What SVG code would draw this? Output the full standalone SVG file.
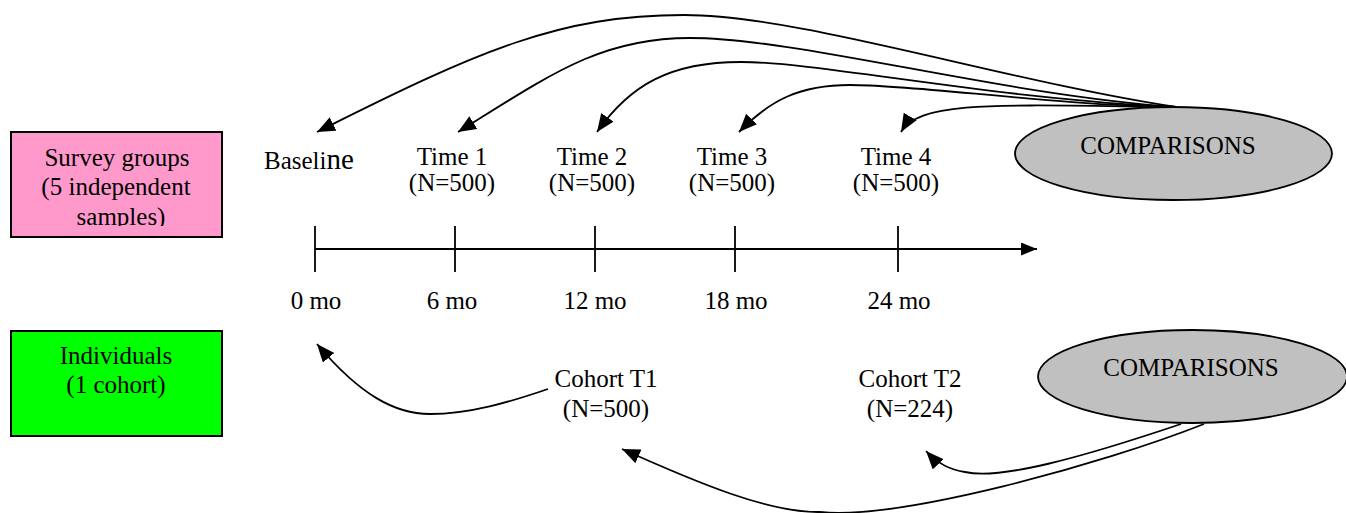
<svg xmlns="http://www.w3.org/2000/svg" width="1346" height="513" viewBox="0 0 1346 513">
  <style>
    text { font-family: "Liberation Serif", "Times New Roman", serif; font-size: 25px; fill: #000; }
    .c { text-anchor: middle; }
    .box { stroke: #000; stroke-width: 2; }
    .oval { fill: #C0C0C0; stroke: #000; stroke-width: 1.8; }
    .edge { fill: none; stroke: #000; stroke-width: 1.8; marker-end: url(#ah); }
    .axis { fill: none; stroke: #000; stroke-width: 1.8; }
  </style>
  <defs>
    <marker id="ah" markerUnits="userSpaceOnUse" markerWidth="20" markerHeight="16" refX="18" refY="7.5" orient="auto">
      <path d="M0,0 L18,7.5 L0,15 z" fill="#000"/>
    </marker>
    <marker id="axisHead" markerUnits="userSpaceOnUse" markerWidth="18" markerHeight="14" refX="16" refY="6.5" orient="auto">
      <path d="M0,0 L16,6.5 L0,13 z" fill="#000"/>
    </marker>
    <clipPath id="surveyClip">
      <rect x="11" y="132" width="211" height="94"/>
    </clipPath>
  </defs>

  <!-- row labels -->
  <g id="survey-groups">
    <rect class="box" x="11" y="132" width="211" height="105" fill="#FF99CC"/>
    <g clip-path="url(#surveyClip)">
      <text class="c" x="117" y="166">Survey groups</text>
      <text class="c" x="116" y="195">(5 independent</text>
      <text class="c" x="121" y="225">samples)</text>
    </g>
  </g>

  <g id="individuals">
    <rect class="box" x="11" y="331" width="211" height="105" fill="#00FF00"/>
    <text class="c" x="116" y="364">Individuals</text>
    <text class="c" x="116" y="393">(1 cohort)</text>
  </g>

  <!-- survey time points -->
  <g id="baseline">
    <text x="264" y="169">Baseli<tspan font-size="29">ne</tspan></text>
  </g>
  <g id="time1">
    <text class="c" x="452" y="165">Time 1</text>
    <text class="c" x="452" y="191">(N=500)</text>
  </g>
  <g id="time2">
    <text class="c" x="592" y="165">Time 2</text>
    <text class="c" x="592" y="191">(N=500)</text>
  </g>
  <g id="time3">
    <text class="c" x="732" y="165">Time 3</text>
    <text class="c" x="732" y="191">(N=500)</text>
  </g>
  <g id="time4">
    <text class="c" x="896" y="165">Time 4</text>
    <text class="c" x="896" y="191">(N=500)</text>
  </g>

  <!-- timeline -->
  <g id="timeline">
    <line class="axis" x1="315" y1="249" x2="1037" y2="249" marker-end="url(#axisHead)"/>
    <line class="axis" x1="315" y1="226" x2="315" y2="272"/>
    <line class="axis" x1="455" y1="226" x2="455" y2="272"/>
    <line class="axis" x1="595" y1="226" x2="595" y2="272"/>
    <line class="axis" x1="735" y1="226" x2="735" y2="272"/>
    <line class="axis" x1="898" y1="226" x2="898" y2="272"/>
    <text class="c" x="316" y="309">0 mo</text>
    <text class="c" x="452" y="309">6 mo</text>
    <text class="c" x="595" y="309">12 mo</text>
    <text class="c" x="736" y="309">18 mo</text>
    <text class="c" x="899" y="309">24 mo</text>
  </g>

  <!-- cohort time points -->
  <g id="cohort-t1">
    <text class="c" x="606" y="387">Cohort T1</text>
    <text class="c" x="606" y="417">(N=500)</text>
  </g>
  <g id="cohort-t2">
    <text class="c" x="910" y="387">Cohort T2</text>
    <text class="c" x="910" y="417">(N=224)</text>
  </g>

  <!-- comparison ovals -->
  <g id="comparisons-survey">
    <ellipse class="oval" cx="1173.5" cy="153.5" rx="158.5" ry="46.5"/>
    <text class="c" x="1168" y="154">COMPARISONS</text>
  </g>
  <g id="comparisons-cohort">
    <ellipse class="oval" cx="1192.5" cy="376.5" rx="154.5" ry="46.5"/>
    <text class="c" x="1191" y="376">COMPARISONS</text>
  </g>

  <!-- connectors -->
  <g id="connectors">
    <path class="edge" d="M1176,107 C1000,80 800,15 684,15 C560,15 480,50 317,132"/>
    <path class="edge" d="M1176,107 C1000,95 800,38 690,38 C600,38 550,75 458,132"/>
    <path class="edge" d="M1176,107 C1000,100 820,62 741,62 C670,62 630,85 597,132"/>
    <path class="edge" d="M1176,107 C1050,105 920,85 850,85 C800,85 770,100 739,132"/>
    <path class="edge" d="M1176,107 C1000,105 920,100 901,132"/>
    <path class="edge" d="M548,389 C510,402 470,414 430,414 C395,414 360,395 317,344"/>
    <path class="edge" d="M1181,424 C1080,458 1000,480 965,472 C950,470 938,464 926,451"/>
    <path class="edge" d="M1204,424 C1100,465 900,520 820,512 C770,513 700,484 622,449"/>
  </g>
</svg>
